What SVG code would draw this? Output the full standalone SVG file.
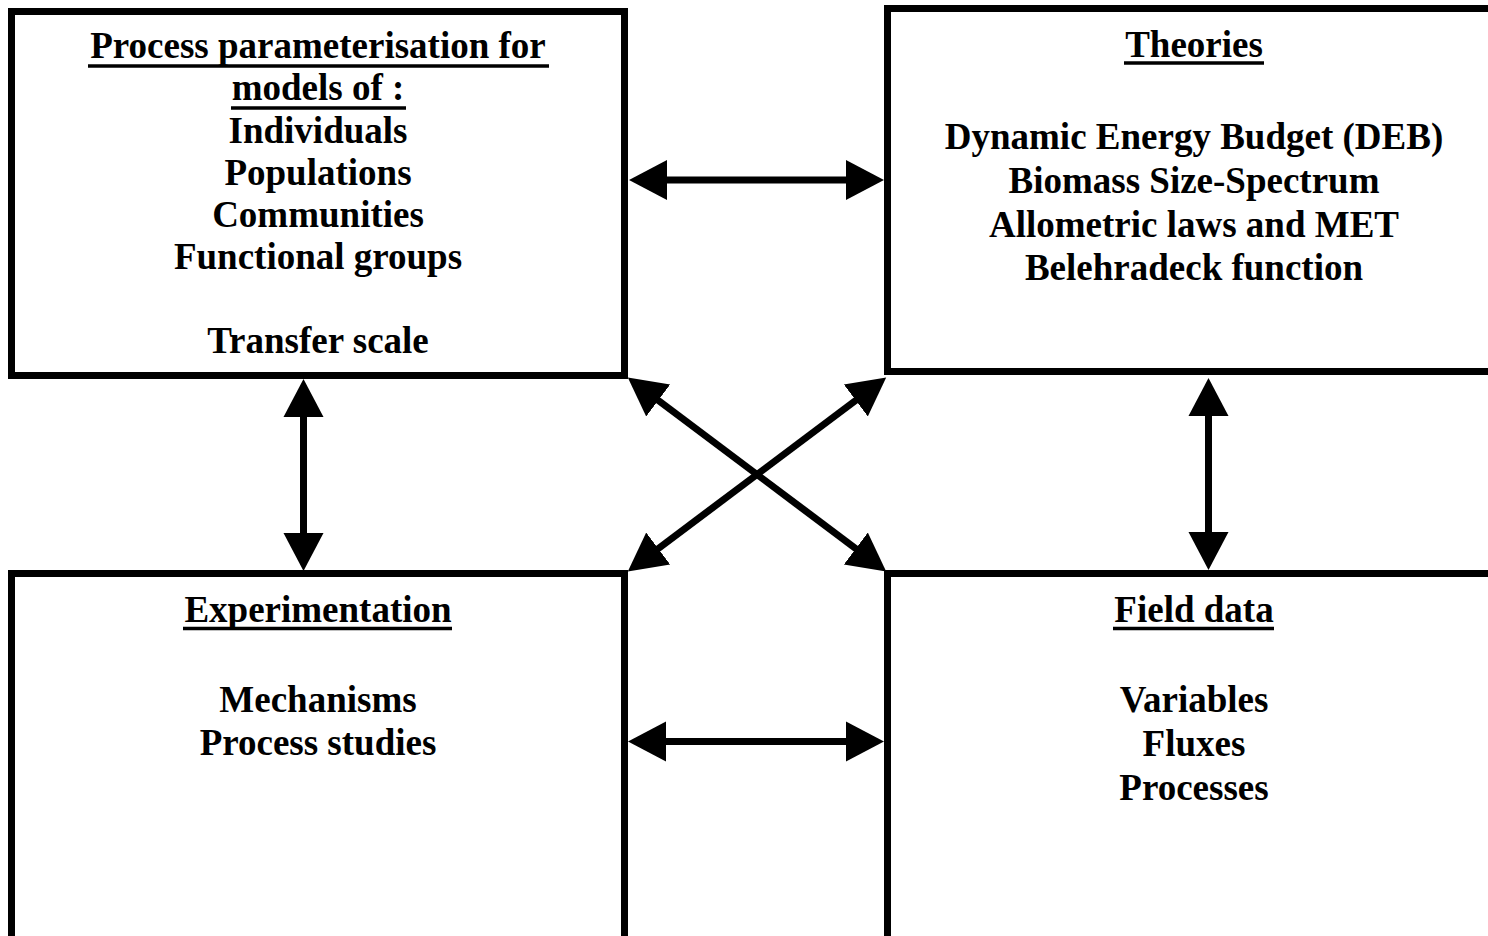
<svg xmlns="http://www.w3.org/2000/svg" width="1488" height="936" viewBox="0 0 1488 936">
<style>
.box{fill:#fff;stroke:#000;stroke-width:7}
.t{font-family:"Liberation Serif","Times New Roman",serif;font-weight:bold;font-size:37px;fill:#000;text-anchor:middle}
.ul{stroke:#000;stroke-width:3.5}
.c{stroke:#000;stroke-width:7;fill:none;marker-start:url(#ah);marker-end:url(#ah)}
</style>
<defs>
<marker id="ah" markerUnits="userSpaceOnUse" markerWidth="40" markerHeight="42" viewBox="0 -21 40 42" refX="1" refY="0" orient="auto-start-reverse">
<path d="M0,-20 L38,0 L0,20 z" fill="#000"/>
</marker>
</defs>
<rect width="1488" height="936" fill="#fff"/>
<g id="node-process">
<rect class="box" x="11.5" y="11.5" width="613" height="364"/>
<text class="t" x="318" y="58">Process parameterisation for</text>
<line class="ul" x1="88" y1="66" x2="549" y2="66"/>
<text class="t" x="318" y="100">models of :</text>
<line class="ul" x1="231" y1="108" x2="406" y2="108"/>
<text class="t" x="318" y="143">Individuals</text>
<text class="t" x="318" y="185">Populations</text>
<text class="t" x="318" y="227">Communities</text>
<text class="t" x="318" y="269">Functional groups</text>
<text class="t" x="318" y="353">Transfer scale</text>
</g>
<g id="node-theories">
<rect class="box" x="887.5" y="8.5" width="700" height="363"/>
<text class="t" x="1194" y="57">Theories</text>
<line class="ul" x1="1124" y1="63" x2="1264" y2="63"/>
<text class="t" x="1194" y="149">Dynamic Energy Budget (DEB)</text>
<text class="t" x="1194" y="193">Biomass Size-Spectrum</text>
<text class="t" x="1194" y="237">Allometric laws and MET</text>
<text class="t" x="1194" y="280">Belehradeck function</text>
</g>
<g id="node-experimentation">
<rect class="box" x="11.5" y="573.5" width="613" height="500"/>
<text class="t" x="318" y="622">Experimentation</text>
<line class="ul" x1="183" y1="628.5" x2="452" y2="628.5"/>
<text class="t" x="318" y="712">Mechanisms</text>
<text class="t" x="318" y="755">Process studies</text>
</g>
<g id="node-field">
<rect class="box" x="887.5" y="573.5" width="700" height="500"/>
<text class="t" x="1194" y="622">Field data</text>
<line class="ul" x1="1113" y1="628.5" x2="1274" y2="628.5"/>
<text class="t" x="1194" y="712">Variables</text>
<text class="t" x="1194" y="756">Fluxes</text>
<text class="t" x="1194" y="800">Processes</text>
</g>
<g id="connectors">
<line class="c" x1="666" y1="180" x2="847" y2="180"/>
<line class="c" x1="665" y1="741.5" x2="847" y2="741.5"/>
<line class="c" x1="303.5" y1="416" x2="303.5" y2="534"/>
<line class="c" x1="1208.5" y1="415" x2="1208.5" y2="533"/>
<line class="c" x1="657.4" y1="399.8" x2="856.6" y2="549.2"/>
<line class="c" x1="856.6" y1="399.8" x2="657.4" y2="549.2"/>
</g>
</svg>
